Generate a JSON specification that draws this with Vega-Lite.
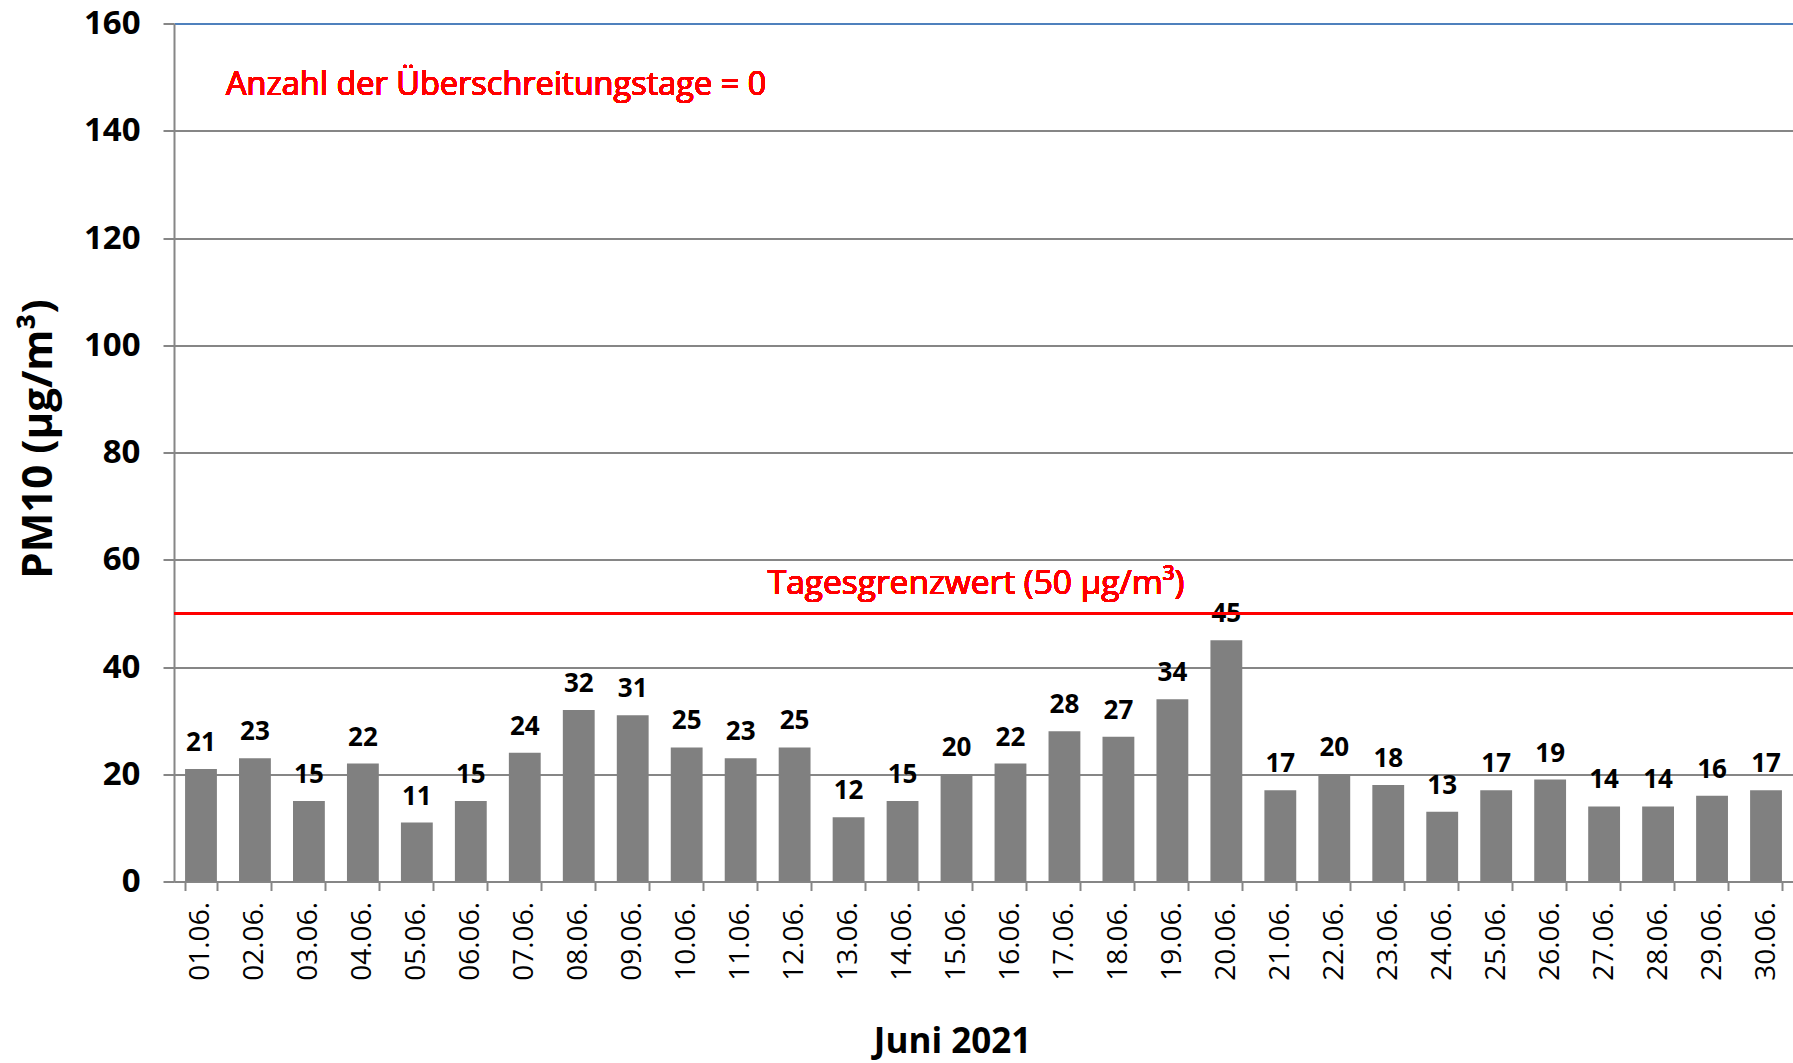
{
  "$schema": "https://vega.github.io/schema/vega-lite/v6.json",
  "width": 1619,
  "height": 858,
  "autosize": {"type": "none"},
  "padding": {"left": 174, "top": 23.5, "right": 0, "bottom": 181.5},
  "background": "white",
  "config": {"view": {"stroke": null}, "font": "Open Sans"},
  "data": {"values": [
    {"tag": "01.06.", "pm10": 21}, {"tag": "02.06.", "pm10": 23}, {"tag": "03.06.", "pm10": 15},
    {"tag": "04.06.", "pm10": 22}, {"tag": "05.06.", "pm10": 11}, {"tag": "06.06.", "pm10": 15},
    {"tag": "07.06.", "pm10": 24}, {"tag": "08.06.", "pm10": 32}, {"tag": "09.06.", "pm10": 31},
    {"tag": "10.06.", "pm10": 25}, {"tag": "11.06.", "pm10": 23}, {"tag": "12.06.", "pm10": 25},
    {"tag": "13.06.", "pm10": 12}, {"tag": "14.06.", "pm10": 15}, {"tag": "15.06.", "pm10": 20},
    {"tag": "16.06.", "pm10": 22}, {"tag": "17.06.", "pm10": 28}, {"tag": "18.06.", "pm10": 27},
    {"tag": "19.06.", "pm10": 34}, {"tag": "20.06.", "pm10": 45}, {"tag": "21.06.", "pm10": 17},
    {"tag": "22.06.", "pm10": 20}, {"tag": "23.06.", "pm10": 18}, {"tag": "24.06.", "pm10": 13},
    {"tag": "25.06.", "pm10": 17}, {"tag": "26.06.", "pm10": 19}, {"tag": "27.06.", "pm10": 14},
    {"tag": "28.06.", "pm10": 14}, {"tag": "29.06.", "pm10": 16}, {"tag": "30.06.", "pm10": 17}
  ]},
  "layer": [
    {
      "mark": {"type": "bar", "color": "#808080"},
      "encoding": {
        "x": {
          "field": "tag", "type": "ordinal", "sort": null,
          "scale": {"paddingInner": 0.41, "paddingOuter": 0.205},
          "axis": {
            "title": "Juni 2021", "titleFontSize": 35, "titleFontWeight": "bold", "titleColor": "black",
            "titleX": 778, "titleY": 171, "titleAlign": "center", "titleBaseline": "alphabetic",
            "labelAngle": -90, "labelFontSize": 28, "labelColor": "black", "labelPadding": 11,
            "tickSize": 9, "tickBand": "extent", "tickColor": "#868686", "tickWidth": 2,
            "domainColor": "#868686", "domainWidth": 2, "grid": false
          }
        },
        "y": {
          "field": "pm10", "type": "quantitative",
          "scale": {"domain": [0, 160], "nice": false},
          "axis": {
            "values": [0, 20, 40, 60, 80, 100, 120, 140, 160],
            "title": "PM10 (µg/m³)", "titleFontSize": 42, "titleFontWeight": "bold", "titleColor": "black",
            "titleAngle": -90, "titleX": -123, "titleY": 415, "titleAlign": "center", "titleBaseline": "alphabetic",
            "labelFontSize": 33, "labelFontWeight": "bold", "labelColor": "black", "labelPadding": 23,
            "tickSize": 11, "tickColor": "#868686", "tickWidth": 2,
            "domainColor": "#868686", "domainWidth": 2,
            "grid": true, "gridWidth": 2,
            "gridColor": {"condition": {"test": "datum.value === 160", "value": "#4f81bd"}, "value": "#868686"}
          }
        }
      }
    },
    {
      "mark": {"type": "text", "fontWeight": "bold", "fontSize": 26, "baseline": "alphabetic", "dy": -18, "color": "black"},
      "encoding": {
        "x": {"field": "tag", "type": "ordinal", "sort": null},
        "y": {"field": "pm10", "type": "quantitative"},
        "text": {"field": "pm10", "type": "quantitative"}
      }
    },
    {
      "mark": {"type": "rule", "color": "#ff0000", "strokeWidth": 2.5},
      "encoding": {"y": {"datum": 50, "type": "quantitative"}}
    },
    {
      "mark": {"type": "text", "color": "#ff0000", "fontSize": 33.5, "align": "left", "baseline": "alphabetic", "dy": -19, "dx": -11},
      "encoding": {
        "x": {"datum": "12.06.", "type": "ordinal", "bandPosition": 0},
        "y": {"datum": 50, "type": "quantitative"},
        "text": {"value": "Tagesgrenzwert (50 µg/m³)"}
      }
    },
    {
      "mark": {"type": "text", "color": "#ff0000", "fontSize": 32.5, "align": "left", "baseline": "alphabetic", "dx": -13},
      "encoding": {
        "x": {"datum": "02.06.", "type": "ordinal", "bandPosition": 0},
        "y": {"datum": 146.7, "type": "quantitative"},
        "text": {"value": "Anzahl der Überschreitungstage = 0"}
      }
    }
  ]
}
